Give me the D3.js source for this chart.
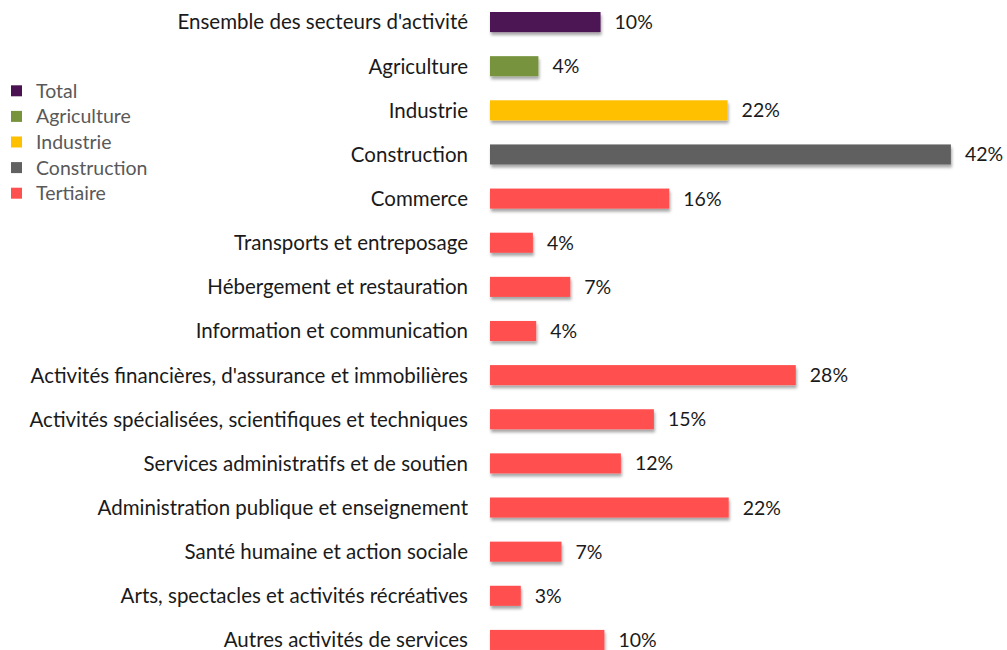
<!DOCTYPE html>
<html><head><meta charset="utf-8">
<script src="https://cdn.jsdelivr.net/npm/d3@7"></script>
<style>body{margin:0;background:#fff}svg{display:block}</style>
</head><body>
<svg id="chart" width="1007" height="650"></svg>
<script>
const categories = ["Ensemble des secteurs d'activité","Agriculture","Industrie","Construction","Commerce","Transports et entreposage","Hébergement et restauration","Information et communication","Activités financières, d'assurance et immobilières","Activités spécialisées, scientifiques et techniques","Services administratifs et de soutien","Administration publique et enseignement","Santé humaine et action sociale","Arts, spectacles et activités récréatives","Autres activités de services"];
const values = [10.05, 4.4, 21.6, 41.9, 16.3, 3.9, 7.3, 4.2, 27.8, 14.9, 11.9, 21.7, 6.5, 2.8, 10.4];
const groups = ["Total","Agriculture","Industrie","Construction","Tertiaire","Tertiaire","Tertiaire","Tertiaire","Tertiaire","Tertiaire","Tertiaire","Tertiaire","Tertiaire","Tertiaire","Tertiaire"];
const legendNames = ["Total","Agriculture","Industrie","Construction","Tertiaire"];
const legendColors = ["#4b1252","#77933c","#ffc000","#616161","#ff5050"];

const svg = d3.select("#chart");
const font = "Lato, 'Open Sans', sans-serif";
const color = d3.scaleOrdinal().domain(legendNames).range(legendColors);

const defs = svg.append("defs");
const f = defs.append("filter").attr("id","sh").attr("x","-5%").attr("y","-30%").attr("width","115%").attr("height","190%");
f.append("feDropShadow").attr("dx",1).attr("dy",3).attr("stdDeviation",1.6).attr("flood-color","#000").attr("flood-opacity",0.35);

const x = d3.scaleLinear().domain([0, 42]).range([490, 490 + 42*11]);
const y = d3.scaleBand().domain(categories).range([0, 662]).paddingInner(0.545).paddingOuter(0.2725);

const g = svg.append("g");
g.selectAll("rect.bar").data(categories).join("rect").attr("class","bar")
  .attr("x", x(0)).attr("y", d => y(d))
  .attr("width", (d,i) => x(values[i]) - x(0))
  .attr("height", y.bandwidth())
  .attr("fill", (d,i) => color(groups[i]))
  .attr("filter","url(#sh)");

const fmt = d3.format(".0f");
g.selectAll("text.val").data(categories).join("text").attr("class","val")
  .attr("x", (d,i) => x(values[i]) + 14)
  .attr("y", d => y(d) + y.bandwidth()/2)
  .attr("dy","0.36em")
  .attr("font-family", font).attr("font-size", 19.5).attr("fill","#1a1a1a")
  .text((d,i) => fmt(values[i]) + "%");

const yAxis = d3.axisLeft(y).tickSize(0).tickPadding(0);
const ax = svg.append("g").attr("transform","translate(468,0)").call(yAxis);
ax.select(".domain").remove();
ax.selectAll("text").attr("font-family", font).attr("font-size", 20.5).attr("fill","#1a1a1a").attr("dy","0.36em");

const leg = svg.append("g");
const ly = d3.scaleBand().domain(legendNames).range([78, 206]);
leg.selectAll("rect").data(legendNames).join("rect")
  .attr("x", 11).attr("y", d => ly(d) + ly.bandwidth()/2 - 5.5)
  .attr("width", 11).attr("height", 11).attr("fill", d => color(d));
leg.selectAll("text").data(legendNames).join("text")
  .attr("x", 36).attr("y", d => ly(d) + ly.bandwidth()/2).attr("dy","0.36em")
  .attr("font-family", font).attr("font-size", 19.5).attr("fill","#595959")
  .text(d => d);
</script>
</body></html>
